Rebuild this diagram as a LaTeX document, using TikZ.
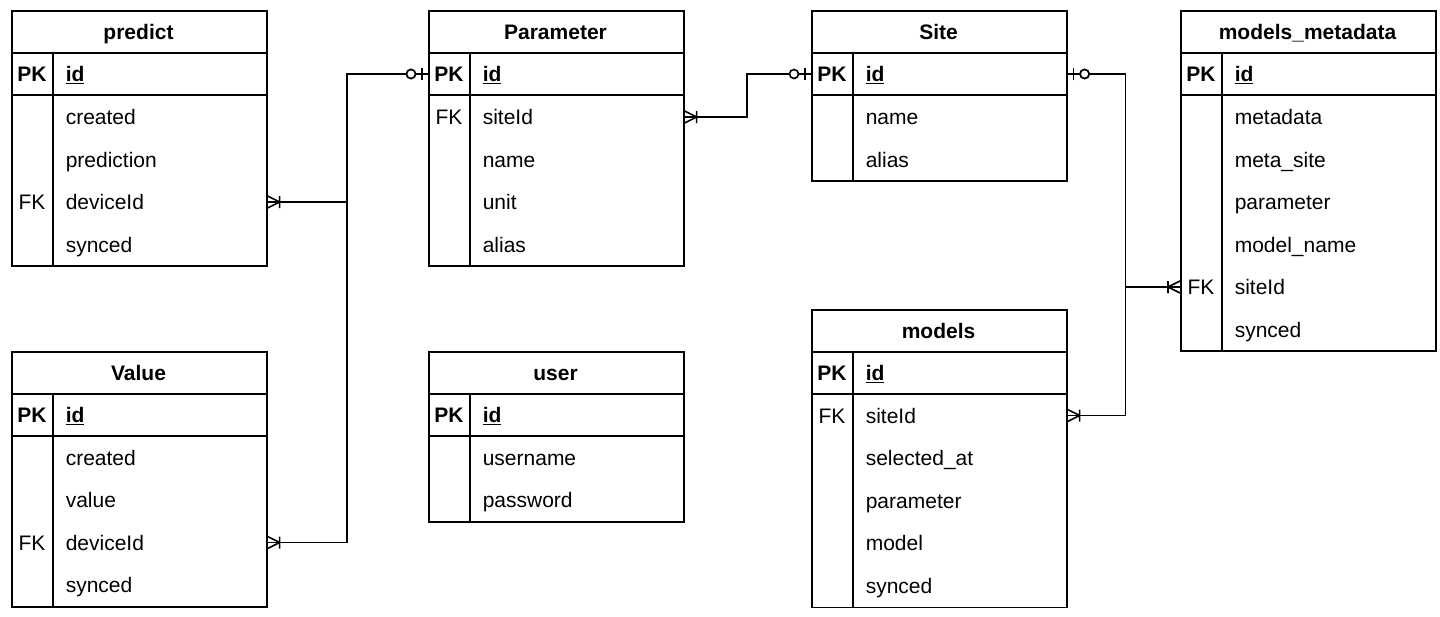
\documentclass[tikz,border=0pt]{standalone}
\usepackage{fontspec}
\setmainfont{Liberation Sans}
\usetikzlibrary{decorations.markings}

\begin{document}
\begin{tikzpicture}[
  x=1pt, y=-1pt,
  line width=1.6pt,
  every node/.append style={font=\fontsize{21}{25}\selectfont, inner sep=0pt, text height=15pt, text depth=0pt},
  tbl/.style={draw, rectangle, anchor=north west, minimum width=255pt},
  hdr/.style={font=\fontsize{21}{25}\selectfont\bfseries},
  pk/.style={font=\fontsize{21}{25}\selectfont\bfseries},
  fk/.style={},
  fld/.style={anchor=west},
  conn/.style={line width=1.6pt},
  one2many/.style={postaction={decorate, decoration={markings,
      mark=at position 1 with {\draw (0,6) -- (-12,0) -- (0,-6) (-12,6) -- (-12,-6);}}}},
  zero2one/.style={postaction={decorate, decoration={markings,
      mark=at position 0 with {\draw (6,6) -- (6,-6); \draw[fill=white] (17,0) circle (4.5);}}}}
]
\useasboundingbox (0,0) rectangle (1440,616);

% predict
\node[tbl, minimum height=255pt] (predict) at (11,10) {};
\node[hdr] (predict-hdr) at (138.5,31.5) {predict};
\draw (11,53) -- (266,53) (11,95) -- (266,95) (53,53) -- (53,265);
\node[pk] (predict-pk) at (32,74) {PK};
\node[fld] (predict-id) at (65,74) {\textbf{\underline{id}}};
\node[fld] (predict-created) at (65,117) {created};
\node[fld] (predict-prediction) at (65,159.5) {prediction};
\node[fk] (predict-fk) at (32,202) {FK};
\node[fld] (predict-deviceId) at (65,202) {deviceId};
\node[fld] (predict-synced) at (65,244.5) {synced};

% Parameter
\node[tbl, minimum height=255pt] (param) at (428,10) {};
\node[hdr] (param-hdr) at (555.5,31.5) {Parameter};
\draw (428,53) -- (683,53) (428,95) -- (683,95) (470,53) -- (470,265);
\node[pk] (param-pk) at (449,74) {PK};
\node[fld] (param-id) at (482,74) {\textbf{\underline{id}}};
\node[fk] (param-fk) at (449,117) {FK};
\node[fld] (param-siteId) at (482,117) {siteId};
\node[fld] (param-name) at (482,159.5) {name};
\node[fld] (param-unit) at (482,202) {unit};
\node[fld] (param-alias) at (482,244.5) {alias};

% Site
\node[tbl, minimum height=170pt] (site) at (811,10) {};
\node[hdr] (site-hdr) at (938.5,31.5) {Site};
\draw (811,53) -- (1066,53) (811,95) -- (1066,95) (853,53) -- (853,180);
\node[pk] (site-pk) at (832,74) {PK};
\node[fld] (site-id) at (865,74) {\textbf{\underline{id}}};
\node[fld] (site-name) at (865,117) {name};
\node[fld] (site-alias) at (865,159.5) {alias};

% models_metadata
\node[tbl, minimum height=340pt] (meta) at (1180,10) {};
\node[hdr] (meta-hdr) at (1307.5,31.5) {models\_metadata};
\draw (1180,53) -- (1435,53) (1180,95) -- (1435,95) (1222,53) -- (1222,350);
\node[pk] (meta-pk) at (1201,74) {PK};
\node[fld] (meta-id) at (1234,74) {\textbf{\underline{id}}};
\node[fld] (meta-metadata) at (1234,117) {metadata};
\node[fld] (meta-site) at (1234,159.5) {meta\_site};
\node[fld] (meta-parameter) at (1234,202) {parameter};
\node[fld] (meta-model) at (1234,244.5) {model\_name};
\node[fk] (meta-fk) at (1201,287) {FK};
\node[fld] (meta-siteId) at (1234,287) {siteId};
\node[fld] (meta-synced) at (1234,329.5) {synced};

% Value
\node[tbl, minimum height=255pt] (value) at (11,351) {};
\node[hdr] (value-hdr) at (138.5,372.5) {Value};
\draw (11,394) -- (266,394) (11,436) -- (266,436) (53,394) -- (53,606);
\node[pk] (value-pk) at (32,415) {PK};
\node[fld] (value-id) at (65,415) {\textbf{\underline{id}}};
\node[fld] (value-created) at (65,457.5) {created};
\node[fld] (value-value) at (65,500) {value};
\node[fk] (value-fk) at (32,542.5) {FK};
\node[fld] (value-deviceId) at (65,542.5) {deviceId};
\node[fld] (value-synced) at (65,585) {synced};

% user
\node[tbl, minimum height=170pt] (user) at (428,351) {};
\node[hdr] (user-hdr) at (555.5,372.5) {user};
\draw (428,394) -- (683,394) (428,436) -- (683,436) (470,394) -- (470,521);
\node[pk] (user-pk) at (449,415) {PK};
\node[fld] (user-id) at (482,415) {\textbf{\underline{id}}};
\node[fld] (user-username) at (482,457.5) {username};
\node[fld] (user-password) at (482,500) {password};

% models
\node[tbl, minimum height=297.5pt] (models) at (811,309) {};
\node[hdr] (models-hdr) at (938.5,330.5) {models};
\draw (811,352) -- (1066,352) (811,394) -- (1066,394) (853,352) -- (853,606.5);
\node[pk] (models-pk) at (832,373) {PK};
\node[fld] (models-id) at (865,373) {\textbf{\underline{id}}};
\node[fk] (models-fk) at (832,415.5) {FK};
\node[fld] (models-siteId) at (865,415.5) {siteId};
\node[fld] (models-selected) at (865,458) {selected\_at};
\node[fld] (models-parameter) at (865,500.5) {parameter};
\node[fld] (models-model) at (865,543) {model};
\node[fld] (models-synced) at (865,585.5) {synced};

% Relations
\draw[conn, zero2one, one2many] (param.west |- param-id) -- ++(-81,0) |- (predict.east |- predict-deviceId);
\draw[conn, zero2one, one2many] (param.west |- param-id) -- ++(-81,0) |- (value.east |- value-deviceId);
\draw[conn, zero2one, one2many] (site.west |- site-id) -- ++(-64,0) |- (param.east |- param-siteId);
\draw[conn, zero2one, one2many] (site.east |- site-id) -- ++(58,0) |- (meta.west |- meta-siteId);
\draw[conn, zero2one, one2many] (site.east |- site-id) -- ++(58,0) |- (models.east |- models-siteId);

\end{tikzpicture}
\end{document}
